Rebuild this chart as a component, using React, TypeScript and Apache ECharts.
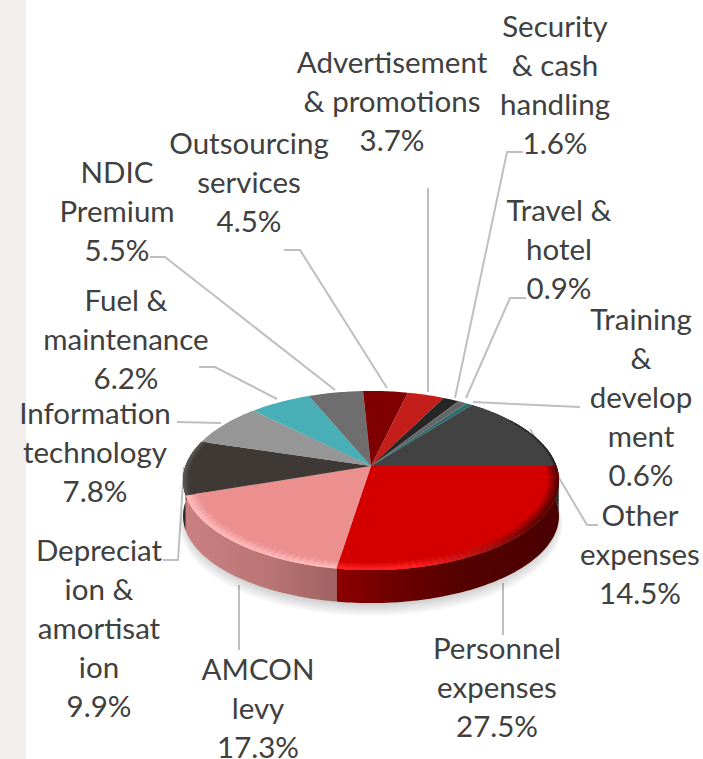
import React, { useEffect, useRef } from "react";
import * as echarts from "echarts";

const categories = [
  "Personnel expenses", "AMCON levy", "Depreciation & amortisation", "Information technology",
  "Fuel & maintenance", "NDIC Premium", "Outsourcing services", "Advertisement & promotions",
  "Security & cash handling", "Travel & hotel", "Training & development", "Other expenses",
];
const values = [27.5, 17.3, 9.9, 7.8, 6.2, 5.5, 4.5, 3.7, 1.6, 0.9, 0.6, 14.5];
const labelLines = [
  ["Personnel", "expenses"], ["AMCON", "levy"], ["Depreciat", "ion &", "amortisat", "ion"],
  ["Information", "technology"], ["Fuel &", "maintenance"], ["NDIC", "Premium"],
  ["Outsourcing", "services"], ["Advertisement", "& promotions"], ["Security", "& cash", "handling"],
  ["Travel &", "hotel"], ["Training", "&", "develop", "ment"], ["Other", "expenses"],
];
const faceColors = ["#D40000", "#EC8F8F", "#3F3936", "#969696", "#47AFB5", "#6E6E6E", "#7F0000", "#C41E1A", "#262626", "#666666", "#2A6E72", "#424242"];

// label layout: centre x, top y
const labelPos = [[497, 628], [258, 649], [99, 530], [95, 393], [126, 280], [117, 152], [249, 123], [392, 42], [555, 6], [559, 190], [641, 299], [640, 495]];
const leaders = [
  [[503, 583], [503, 635]], [[239, 585], [239, 650]], [[163, 560], [178, 560], [184, 467]],
  [[177, 422], [221, 423]], [[199, 367], [215, 367], [277, 399]], [[150, 257], [165, 257], [335, 390]],
  [[284, 250], [300, 250], [387, 388]], [[428, 188], [428, 392]], [[523, 152], [507, 152], [455, 398]],
  [[526, 298], [510, 298], [466, 398]], [[580, 407], [473, 402]], [[598, 525], [587, 525], [530, 429]],
];

// projection of the tilted disc
const CX = 371, CY = 466, A = 185.5, B = 87.2, K = -0.162;
const rad = (d: number) => (d * Math.PI) / 180;
function proj(deg: number, rho = 1) {
  const X = rho * Math.cos(rad(deg)), Y = rho * Math.sin(rad(deg));
  const w = 1 + K * Y;
  return [CX + (A * X) / w, CY + (B * Y) / w];
}
const depth = (deg: number) => 36 - 3 * Math.sin(rad(deg));
const lower = (deg: number) => { const p = proj(deg); return [p[0], p[1] + depth(deg)]; };

const total = values.reduce((a, b) => a + b, 0);
function sliceAngles(i: number) {
  let s = 0;
  for (let j = 0; j < i; j++) s += values[j];
  return [(s / total) * 360, ((s + values[i]) / total) * 360];
}
function range(a: number, b: number, step = 1) {
  const out: number[] = [];
  for (let t = a; t < b; t += step) out.push(t);
  out.push(b);
  return out;
}
const seriesData = categories.map((name, i) => ({ name, value: [values[i]] }));

const rimStops: Record<number, [number, string][]> = {
  0: [[0, "#8E0000"], [0.25, "#6E0000"], [0.55, "#560000"], [0.95, "#4A0000"], [1, "#4A0000"]],
  1: [[0, "#C98080"], [0.5, "#BC7676"], [1, "#A06262"]],
  2: [[0, "#2E2A28"], [1, "#3A3533"]],
};

const renderRim = (params: any) => {
  const i = params.dataIndex;
  const [a, b] = sliceAngles(i);
  const s = Math.max(a, -12), e = Math.min(b, 192);
  const lo = i === 11 ? a : s;
  const hi = i === 11 ? 372 : e;
  if (hi <= lo) return { type: "group", children: [] };
  const pts = [...range(lo, hi).map((t) => proj(t)), ...range(lo, hi).reverse().map((t) => lower(t))];
  const xs = pts.map((p) => p[0]);
  const x0 = Math.min(...xs), x1 = Math.max(...xs);
  const stops = rimStops[i];
  const fill = stops
    ? { type: "linear", x: x0, y: 0, x2: x1, y2: 0, global: true, colorStops: stops.map(([offset, color]) => ({ offset, color })) }
    : "#2a2a2a";
  return { type: "polygon", shape: { points: pts }, style: { fill }, silent: true };
};

const renderFace = (params: any, api: any) => {
  const v = api.value(0);
  const [a] = sliceAngles(params.dataIndex);
  const b = a + (v / total) * 360;
  const pts = [[CX, CY], ...range(a, b).map((t) => proj(t))];
  return { type: "polygon", shape: { points: pts }, style: { fill: faceColors[params.dataIndex] }, silent: true };
};

function bevelColor(i: number, t: number) {
  if (i === 0) {
    if (t < 35) return "#560000";
    if (t < 78) {
      const f = (t - 35) / 43;
      const r = Math.round(0x56 + f * (0xff - 0x56));
      const g = Math.round(f * 0x22);
      return `rgb(${r},${g},${g})`;
    }
    return "#FF2222";
  }
  if (i === 1) return "#FFBBBB";
  if (i === 2) return "#5A5654";
  return "#1C1C1C";
}

const renderBevel = (params: any) => {
  const i = params.dataIndex;
  const [a0, b] = sliceAngles(i);
  if (i > 2 && i !== 11) return { type: "group", children: [] };
  const a = i === 11 ? 325 : a0;
  const rhoIn = i === 11 ? 0.97 : i === 2 ? 0.95 : 0.9;
  const children: any[] = [];
  const step = 2;
  for (const t of range(a, b, step)) {
    const t1 = Math.min(t + step + 0.4, b);
    if (t >= b) break;
    const mid = (t + t1) / 2;
    const pIn = proj(mid, rhoIn), pOut = proj(mid, 1);
    children.push({
      type: "polygon",
      shape: { points: [proj(t, rhoIn), proj(t1, rhoIn), proj(t1), proj(t)] },
      style: {
        fill: {
          type: "linear", x: pIn[0], y: pIn[1], x2: pOut[0], y2: pOut[1], global: true,
          colorStops: [
            { offset: 0, color: faceColors[i] },
            { offset: 0.35, color: faceColors[i] },
            { offset: 0.92, color: bevelColor(i, t) },
            { offset: 1, color: bevelColor(i, t) },
          ],
        },
      },
      silent: true,
    });
  }
  return { type: "group", children };
};

// soft ground shadow built from stacked translucent discs
const renderShadow = () => {
  const children: any[] = [];
  for (let k = 0; k < 8; k++) {
    const pts = range(0, 360, 3).map((t) => {
      const p = proj(t, 1.018 - k * 0.004);
      return [p[0], p[1] + 44 - k * 1.2];
    });
    children.push({ type: "polygon", shape: { points: pts }, style: { fill: "rgba(0,0,0,0.022)" }, silent: true });
  }
  return { type: "group", children };
};

function buildOption() {
  const strip = { type: "rect", shape: { x: 0, y: 0, width: 26, height: 759 }, style: { fill: "#F1EEEB" }, silent: true };
  const lines = leaders.map((pts) => ({
    type: "polyline",
    shape: { points: pts },
    style: { stroke: "#BFBFBF", lineWidth: 2, fill: "none" },
    silent: true,
  }));
  const texts = labelLines.map((ls, i) => ({
    type: "text",
    x: labelPos[i][0],
    y: labelPos[i][1],
    style: {
      text: [...ls, `${values[i].toFixed(1)}%`].join("\n"),
      align: "center",
      verticalAlign: "top",
      font: '29.5px Lato, "Open Sans", sans-serif',
      lineHeight: 39,
      fill: "#404040",
    },
    silent: true,
  }));
  const custom = (name: string, renderItem: any, z: number, data: any = seriesData) => ({
    type: "custom", name, coordinateSystem: "none", renderItem, data, z, silent: true, animation: false,
  });
  return {
    animation: false,
    backgroundColor: "#ffffff",
    graphic: { elements: [strip, ...lines, ...texts] },
    series: [
      custom("shadow", renderShadow, 1, [{ value: [total] }]),
      custom("rim", renderRim, 2),
      custom("expenses", renderFace, 3),
      custom("bevel", renderBevel, 4),
    ],
  };
}

export default function App() {
  const ref = useRef<HTMLDivElement>(null);
  useEffect(() => {
    const chart = echarts.init(ref.current!, undefined, { renderer: "svg" });
    chart.setOption(buildOption() as any);
    return () => chart.dispose();
  }, []);
  return <div ref={ref} style={{ position: "absolute", left: 0, top: 0, width: 703, height: 759 }} />;
}
